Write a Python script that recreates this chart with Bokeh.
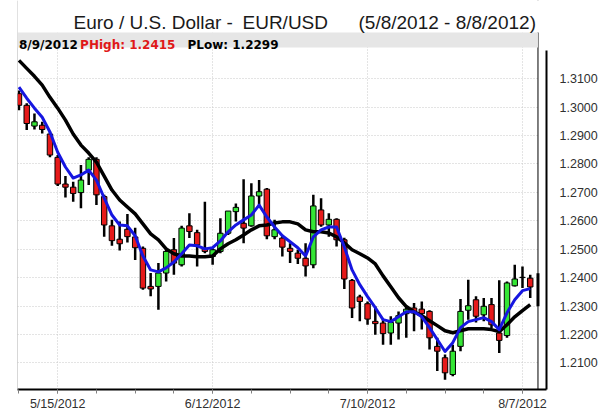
import pandas as pd
from bokeh.plotting import figure
from bokeh.models import (ColumnDataSource, Range1d, FixedTicker, Span,
                          BoxAnnotation, Label, NumeralTickFormatter)
from bokeh.embed import file_html
from bokeh.resources import INLINE

# ---------------- data ----------------
dates = [f"{d.month}/{d.day}/{d.year}" for d in pd.bdate_range("2012-05-08", "2012-08-08")]

opens = [1.3047, 1.3006, 1.2933, 1.2936, 1.2905, 1.2823, 1.2729, 1.2718, 1.2699, 1.2778,
         1.2816, 1.2685, 1.2582, 1.2535, 1.2570, 1.2543, 1.2503, 1.2369, 1.2369, 1.2416,
         1.2498, 1.2445, 1.2582, 1.2558, 1.2503, 1.2474, 1.2492, 1.2556, 1.2632, 1.2591,
         1.2582, 1.2687, 1.2711, 1.2544, 1.2539, 1.2503, 1.2486, 1.2468, 1.2445, 1.2638,
         1.2585, 1.2605, 1.2533, 1.2390, 1.2332, 1.2308, 1.2246, 1.2240, 1.2205, 1.2240,
         1.2273, 1.2293, 1.2289, 1.2281, 1.2158, 1.2118, 1.2059, 1.2158, 1.2285, 1.2322,
         1.2269, 1.2305, 1.2205, 1.2196, 1.2371, 1.2400, 1.2398]
highs = [1.3058, 1.3013, 1.2977, 1.2948, 1.2913, 1.2831, 1.2757, 1.2737, 1.2796, 1.2823,
         1.2823, 1.2691, 1.2603, 1.2597, 1.2624, 1.2575, 1.2509, 1.2416, 1.2451, 1.2498,
         1.2539, 1.2582, 1.2626, 1.2568, 1.2667, 1.2503, 1.2609, 1.2634, 1.2661, 1.2746,
         1.2732, 1.2743, 1.2715, 1.2603, 1.2550, 1.2521, 1.2498, 1.2521, 1.2691, 1.2679,
         1.2626, 1.2609, 1.2540, 1.2395, 1.2340, 1.2316, 1.2299, 1.2252, 1.2264, 1.2281,
         1.2299, 1.2311, 1.2316, 1.2285, 1.2188, 1.2129, 1.2164, 1.2325, 1.2392, 1.2334,
         1.2328, 1.2328, 1.2391, 1.2386, 1.2445, 1.2439, 1.2410]
lows = [1.2989, 1.2919, 1.2921, 1.2907, 1.2823, 1.2722, 1.2682, 1.2667, 1.2644, 1.2726,
        1.2655, 1.2544, 1.2512, 1.2495, 1.2523, 1.2462, 1.2357, 1.2334, 1.2287, 1.2386,
        1.2410, 1.2439, 1.2539, 1.2439, 1.2486, 1.2445, 1.2486, 1.2550, 1.2597, 1.2521,
        1.2579, 1.2655, 1.2535, 1.2535, 1.2474, 1.2451, 1.2448, 1.2404, 1.2433, 1.2579,
        1.2544, 1.2509, 1.2360, 1.2258, 1.2246, 1.2234, 1.2199, 1.2164, 1.2164, 1.2182,
        1.2188, 1.2211, 1.2217, 1.2147, 1.2071, 1.2041, 1.2053, 1.2141, 1.2252, 1.2242,
        1.2246, 1.2223, 1.2135, 1.2188, 1.2369, 1.2363, 1.2328]
closes = [1.3006, 1.2942, 1.2948, 1.2921, 1.2831, 1.2729, 1.2718, 1.2696, 1.2743, 1.2816,
          1.2691, 1.2585, 1.2530, 1.2519, 1.2544, 1.2505, 1.2363, 1.2360, 1.2416, 1.2492,
          1.2451, 1.2574, 1.2562, 1.2515, 1.2492, 1.2498, 1.2556, 1.2634, 1.2647, 1.2574,
          1.2687, 1.2702, 1.2547, 1.2568, 1.2507, 1.2492, 1.2468, 1.2441, 1.2652, 1.2585,
          1.2605, 1.2533, 1.2395, 1.2293, 1.2316, 1.2254, 1.2238, 1.2203, 1.2242, 1.2266,
          1.2289, 1.2275, 1.2273, 1.2188, 1.2141, 1.2065, 1.2141, 1.2281, 1.2301, 1.2264,
          1.2299, 1.2234, 1.2179, 1.2381, 1.2395, 1.2401, 1.2367]

ma_fast = [1.3070, 1.3031, 1.2996, 1.2964, 1.2912, 1.2841, 1.2789, 1.2750, 1.2761, 1.2778,
           1.2743, 1.2680, 1.2620, 1.2585, 1.2582, 1.2547, 1.2476, 1.2427, 1.2420, 1.2434,
           1.2455, 1.2484, 1.2515, 1.2512, 1.2501, 1.2505, 1.2529, 1.2561, 1.2585, 1.2603,
           1.2620, 1.2655, 1.2613, 1.2578, 1.2547, 1.2526, 1.2505, 1.2476, 1.2543, 1.2568,
           1.2578, 1.2578, 1.2508, 1.2427, 1.2375, 1.2333, 1.2294, 1.2252, 1.2245, 1.2262,
           1.2280, 1.2280, 1.2262, 1.2224, 1.2182, 1.2140, 1.2171, 1.2224, 1.2245, 1.2252,
           1.2259, 1.2245, 1.2217, 1.2276, 1.2322, 1.2354, 1.2361]
ma_slow = [1.3164, 1.3136, 1.3108, 1.3077, 1.3034, 1.2996, 1.2954, 1.2905, 1.2866, 1.2838,
           1.2806, 1.2757, 1.2708, 1.2673, 1.2648, 1.2624, 1.2589, 1.2554, 1.2533, 1.2501,
           1.2484, 1.2476, 1.2476, 1.2473, 1.2473, 1.2476, 1.2501, 1.2519, 1.2533, 1.2550,
           1.2568, 1.2582, 1.2585, 1.2592, 1.2596, 1.2596, 1.2589, 1.2568, 1.2561, 1.2561,
           1.2557, 1.2543, 1.2522, 1.2498, 1.2484, 1.2469, 1.2448, 1.2406, 1.2368, 1.2329,
           1.2298, 1.2280, 1.2266, 1.2248, 1.2231, 1.2213, 1.2206, 1.2213, 1.2220, 1.2220,
           1.2220, 1.2217, 1.2210, 1.2234, 1.2262, 1.2284, 1.2305]

last_date = "8/9/2012"
p_high = 1.2415
p_low = 1.2299

y_ticks = [1.21, 1.22, 1.23, 1.24, 1.25, 1.26, 1.27, 1.28, 1.29, 1.30, 1.31]
x_label_dates = ["5/15/2012", "6/12/2012", "7/10/2012", "8/7/2012"]

title_parts = ["Euro / U.S. Dollar -", "EUR/USD", "(5/8/2012 - 8/8/2012)"]

# ---------------- figure ----------------
FONT = "Liberation Sans"
idx = list(range(len(dates)))
last_idx = len(dates)

X0, X1 = -0.19, 68.1
Y0, Y1 = 1.20063, 1.33747
p = figure(width=600, height=413,
           x_range=Range1d(X0, X1), y_range=Range1d(Y0, Y1),
           output_backend="svg", toolbar_location=None, y_axis_location="right",
           min_border_left=17, min_border_right=49, min_border_top=0, min_border_bottom=23)
p.background_fill_color = "white"
p.border_fill_color = "white"
p.outline_line_color = None

# grids
p.ygrid.ticker = FixedTicker(ticks=y_ticks)
p.ygrid.grid_line_color = "#c8c8c8"
p.ygrid.grid_line_dash = "1 2"
p.xgrid.grid_line_color = "#c8c8c8"
p.xgrid.grid_line_dash = "1 2"

label_idx = [dates.index(d) for d in x_label_dates]
p.xaxis.ticker = FixedTicker(ticks=label_idx, minor_ticks=list(range(0, len(dates), 5)))
p.xgrid.ticker = FixedTicker(ticks=label_idx)
p.xaxis.major_label_overrides = {i: dates[i] for i in label_idx}
p.xaxis.axis_line_color = "black"
p.xaxis.axis_line_width = 2
p.xaxis.major_tick_in = 0
p.xaxis.major_tick_out = 4
p.xaxis.minor_tick_in = 0
p.xaxis.minor_tick_out = 4
p.xaxis.major_tick_line_color = "#808080"
p.xaxis.minor_tick_line_color = "#808080"
p.xaxis.major_label_standoff = 3
p.xaxis.major_label_text_font = FONT
p.xaxis.major_label_text_font_size = "12.5px"
p.xaxis.major_label_text_color = "#303030"

p.yaxis.ticker = FixedTicker(ticks=y_ticks)
p.yaxis.formatter = NumeralTickFormatter(format="0.0000")
p.yaxis.bounds = (Y0, 1.32)
p.yaxis.axis_line_color = "black"
p.yaxis.axis_line_width = 2
p.yaxis.major_tick_line_color = None
p.yaxis.minor_tick_line_color = None
p.yaxis.major_label_standoff = 7
p.yaxis.major_label_text_font = FONT
p.yaxis.major_label_text_font_size = "12.5px"
p.yaxis.major_label_text_color = "#303030"

# blank gutter between the price panel and the price axis
p.add_layout(BoxAnnotation(left=last_idx, fill_color="white", fill_alpha=1.0,
                           line_color=None, level="underlay"))

# candles
inc = [c >= o for o, c in zip(opens, closes)]
src = ColumnDataSource(dict(
    x=idx,
    top=[max(o, c) for o, c in zip(opens, closes)],
    bottom=[min(o, c) for o, c in zip(opens, closes)],
    high=highs, low=lows,
    color=["#35e635" if i else "#e61a1a" for i in inc],
))
p.segment(x0="x", y0="high", x1="x", y1="low", source=src, line_color="black", line_width=2.5)
p.vbar(x="x", width=0.7, top="top", bottom="bottom", fill_color="color",
       line_color="black", line_width=1, source=src)

# current (8/9) bar
p.segment(x0=[last_idx], y0=[p_high], x1=[last_idx], y1=[p_low], line_color="black", line_width=3)

# moving averages
p.line(idx, ma_slow, line_color="black", line_width=3.5, line_join="round")
p.line(idx, ma_fast, line_color="#1616e0", line_width=3, line_join="round")

# panel edges
p.add_layout(Span(location=X0, dimension="height", line_color="#b0b0b0", line_width=1))
p.add_layout(Span(location=last_idx, dimension="height", line_color="black", line_width=1))

# white title area above the panel
p.add_layout(BoxAnnotation(bottom=32, bottom_units="canvas",
                           fill_color="white", fill_alpha=1.0, line_color=None))

# header strip
p.add_layout(BoxAnnotation(left=15, left_units="canvas", right=last_idx,
                           top=32, bottom=47, top_units="canvas", bottom_units="canvas",
                           fill_color="#e6e6e6", fill_alpha=1.0, line_color=None))
p.add_layout(Span(location=last_idx, dimension="height", line_color="black", line_width=1,
                  level="overlay", visible=False))

hdr = [(18.5, last_date, "black"),
       (79.6, f"PHigh: {p_high:.4f}", "#e01818"),
       (187, f"PLow: {p_low:.4f}", "black")]
for x, t, c in hdr:
    p.add_layout(Label(x=x, y=44, x_units="canvas", y_units="canvas", text=t,
                       text_font="DejaVu Sans", text_font_size="12px", text_font_style="bold",
                       text_color=c, text_baseline="alphabetic"))

for x, t in zip([73, 242, 358], title_parts):
    p.add_layout(Label(x=x, y=21.5, x_units="canvas", y_units="canvas", text=t,
                       text_font=FONT, text_font_size="19px", text_color="#1a1a1a",
                       text_baseline="alphabetic"))

open("out.html", "w").write(file_html(p, INLINE))
